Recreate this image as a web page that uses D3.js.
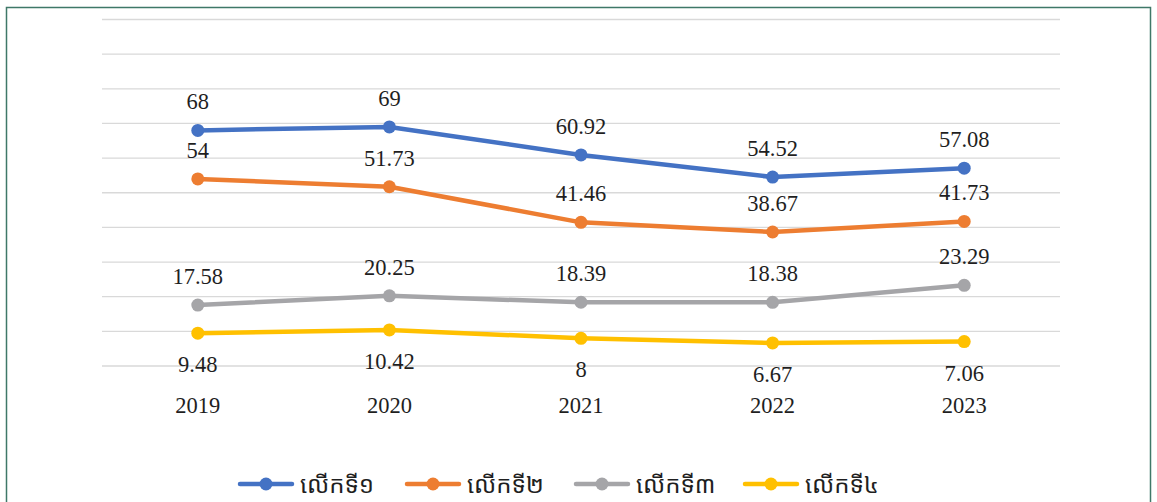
<!DOCTYPE html>
<html>
<head>
<meta charset="utf-8">
<script src="https://cdn.jsdelivr.net/npm/d3@7"></script>
<style>
  body { margin: 0; background: #fff; }
  svg text { font-family: "Liberation Serif", "Times New Roman", serif; fill: #1f1f1f; }
  .legend text { font-family: "Noto Sans Khmer", "Khmer OS", "Noto Sans", sans-serif; }
</style>
</head>
<body>
<svg id="chart" width="1157" height="502"></svg>
<script>
// chart data
var years = ['2019', '2020', '2021', '2022', '2023'];
var seriesNames = ['លើកទី១', 'លើកទី២', 'លើកទី៣', 'លើកទី៤'];
var round1 = [68, 69, 60.92, 54.52, 57.08];
var round2 = [54, 51.73, 41.46, 38.67, 41.73];
var round3 = [17.58, 20.25, 18.39, 18.38, 23.29];
var round4 = [9.48, 10.42, 8, 6.67, 7.06];
var gridTicks = [0, 10, 20, 30, 40, 50, 60, 70, 80, 90, 100];

var colors = ['#4472C4', '#ED7D31', '#A5A5A8', '#FFC000'];
var allValues = [round1, round2, round3, round4];
var labelBelow = [false, false, false, true];

var svg = d3.select('#chart');

// outer frame
svg.append('rect')
  .attr('x', 6.5).attr('y', 7.5)
  .attr('width', 1144).attr('height', 510)
  .attr('fill', 'none')
  .attr('stroke', '#3f7868')
  .attr('stroke-width', 1.5);

var plotLeft = 102, plotRight = 1060, plotTop = 19.5, plotBottom = 366;

var x = d3.scaleBand().domain(years).range([plotLeft, plotRight]);
var y = d3.scaleLinear().domain([0, 100]).range([plotBottom, plotTop]);

// gridlines
svg.append('g').selectAll('line')
  .data(gridTicks)
  .join('line')
  .attr('x1', plotLeft).attr('x2', plotRight)
  .attr('y1', function(d) { return y(d); })
  .attr('y2', function(d) { return y(d); })
  .attr('stroke', '#d9d9d9')
  .attr('stroke-width', 1.3);

// category labels
svg.append('g').selectAll('text')
  .data(years)
  .join('text')
  .attr('x', function(d) { return x(d) + x.bandwidth() / 2; })
  .attr('y', 413)
  .attr('text-anchor', 'middle')
  .style('font-size', '22.5px')
  .text(function(d) { return d; });

var line = d3.line()
  .x(function(d, i) { return x(years[i]) + x.bandwidth() / 2; })
  .y(function(d) { return y(d); });

allValues.forEach(function(vals, s) {
  var g = svg.append('g');
  g.append('path')
    .datum(vals)
    .attr('d', line)
    .attr('fill', 'none')
    .attr('stroke', colors[s])
    .attr('stroke-width', 4.5)
    .attr('stroke-linejoin', 'round')
    .attr('stroke-linecap', 'round');

  g.selectAll('circle')
    .data(vals)
    .join('circle')
    .attr('cx', function(d, i) { return x(years[i]) + x.bandwidth() / 2; })
    .attr('cy', function(d) { return y(d); })
    .attr('r', 6.5)
    .attr('fill', colors[s]);

  g.selectAll('text')
    .data(vals)
    .join('text')
    .attr('x', function(d, i) { return x(years[i]) + x.bandwidth() / 2; })
    .attr('y', function(d) { return y(d) + (labelBelow[s] ? 39 : -21); })
    .attr('text-anchor', 'middle')
    .style('font-size', '22.5px')
    .text(function(d) { return d; });
});

// legend
var legendX = [240, 407, 576, 745];
var legend = svg.append('g').attr('class', 'legend');
seriesNames.forEach(function(name, s) {
  var lg = legend.append('g').attr('transform', 'translate(' + legendX[s] + ',484)');
  lg.append('line')
    .attr('x1', 0).attr('x2', 52)
    .attr('stroke', colors[s])
    .attr('stroke-width', 4.5)
    .attr('stroke-linecap', 'round');
  lg.append('circle').attr('cx', 26).attr('r', 6.5).attr('fill', colors[s]);
  lg.append('text')
    .attr('x', 60).attr('y', 9)
    .style('font-size', '24px')
    .text(name);
});
</script>
</body>
</html>
